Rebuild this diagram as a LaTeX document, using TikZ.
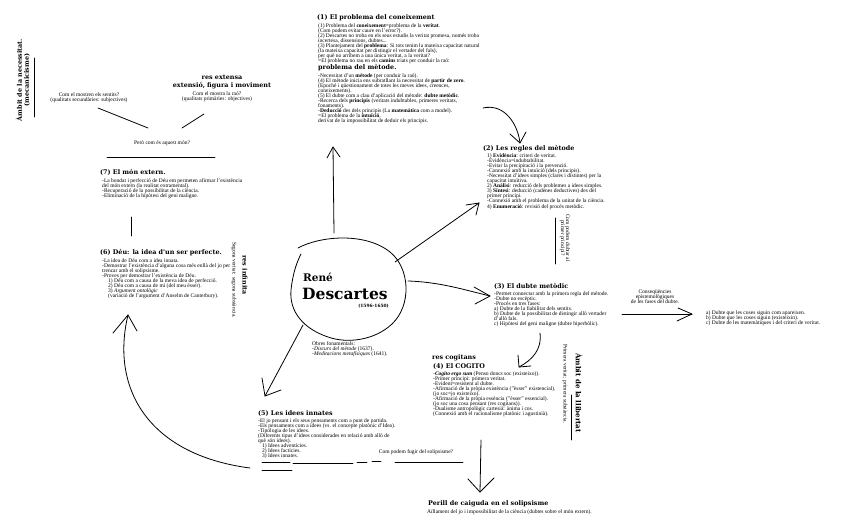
\documentclass[tikz,border=0pt]{standalone}
\usepackage{fontspec}
\usetikzlibrary{calc}
\setmainfont{Liberation Serif}
\newfontfamily\hfont{DejaVu Serif}
\newcommand\bsz{\fontsize{5.5}{5.1}\selectfont}
\newcommand\hsz{\hfont\bfseries\fontsize{6.4}{7}\selectfont}
\begin{document}
\begin{tikzpicture}[x=1pt,y=-1pt,
  body/.style={font=\bsz, align=left, anchor=north west, inner sep=0pt},
  hd/.style={font=\hsz, anchor=base west, inner sep=0pt},
  note/.style={font=\bsz, align=center, inner sep=0pt},
  hand/.style={line width=0.8pt, line cap=round, line join=round},
  thin/.style={line width=0.6pt, line cap=round}]
\useasboundingbox[fill=white] (0,0) rectangle (848,527);

% ---------- (1)
\node[hd] (h1) at (317,20) {(1) El problema del coneixement};
\node[body] (b1) at (318,23) {(1) Problema del \textbf{coneixement}=problema de la \textbf{veritat}.\\
(Com podem evitar caure en l'error?).\\
(2) Descartes no troba en els seus estudis la veritat promesa, només troba\\
incertesa, dissensions, dubtes...\\
(3) Plantejament del \textbf{problema}: Si tots tenim la mateixa capacitat natural\\
(la mateixa capacitat per distingir el vertader del fals),\\
per què no arribem a una única veritat, a la veritat?\\
=El problema no rau en els \textbf{camins} triats per conduir la raó:};
\node[hd] (h1b) at (318,70) {problema del mètode.};
\node[body] (b1b) at (318,73) {-Necessitat d'un \textbf{mètode} (per conduir la raó).\\
(4) El mètode inicia ens subratllant la necessitat de \textbf{partir de zero}.\\
(Epoché i qüestionament de totes les meves idees, creences,\\
coneixements).\\
(5) El dubte com a clau d'aplicació del mètode: \textbf{dubte metòdic}.\\
-Recerca dels \textbf{principis} (veritats indubtables, primeres veritats,\\
fonaments).\\
-\textbf{Deducció} des dels principis (La \textbf{matemàtica} com a model).\\
=El problema de la \textbf{intuïció},\\
derivat de la impossibilitat de deduir els principis.};

% ---------- (2)
\node[hd] (h2) at (483,150) {(2) Les regles del mètode};
\node[body] (b2) at (487,153) {1) \textbf{Evidència}: criteri de veritat.\\
-Evidència=indubtabilitat.\\
-Evitar la precipitació i la prevenció.\\
-Connexió amb la intuïció (dels principis).\\
-Necessitat d'idees simples (clares i distintes) per la\\
capacitat intuïtiva.\\
2) \textbf{Anàlisi}: reducció dels problemes a idees simples.\\
3) \textbf{Síntesi}: deducció (cadenes deductives) des del\\
primer principi.\\
-Connexió amb el problema de la unitat de la ciència.\\
4) \textbf{Enumeració}: revisió del procés metòdic.};

\coordinate (v23a) at (555,218);
\coordinate (v23b) at (555,264);
\draw[thin] (v23a) -- (v23b);
\node[note, rotate=-90] (q23) at (565,238) {Com podem dubtar al\\primer principi?};

% ---------- (3)
\node[hd] (h3) at (494,288) {(3) El dubte metòdic};
\node[body] (b3) at (494,291) {-Permet connectar amb la primera regla del mètode.\\
-Dubte no escèptic.\\
-Procés en tres fases:\\
a) Dubte de la fiabilitat dels sentits.\\
b) Dubte de la possibilitat de distingir allò vertader\\
d'allò fals.\\
c) Hipòtesi del geni maligne (dubte hiperbòlic).};

\node[note] (cons) at (655,297) {Conseqüències\\epistemològiques\\de les fases del dubte.};
\coordinate (c1) at (622,314);
\coordinate (c2) at (692,314);
\draw[hand] (c1) -- (c2);
\draw[hand] ($(c2)+(-14,-6)$) -- (c2) -- ($(c2)+(-15,7)$);
\node[body] (b3b) at (706,310) {a) Dubte que les coses siguin com apareixen.\\
b) Dubte que les coses siguin (existeixin).\\
c) Dubte de les matemàtiques i del criteri de veritat.};

% ---------- (4)
\node[hd] (rc) at (432,359) {res cogitans};
\node[hd] (h4) at (433,368) {(4) El COGITO};
\node[body] (b4) at (433,371) {-\textbf{\textit{Cogito ergo sum}} (Penso doncs soc (existeixo)).\\
-Primer principi: primera veritat.\\
-Evident=resistent al dubte.\\
-Afirmació de la pròpia existència ("èsser" existencial).\\
(jo soc=jo existeixo).\\
-Afirmació de la pròpia essència ("èsser" essencial).\\
(jo soc una cosa pensant (res cogitans)).\\
-Dualisme antropològic cartesià: ànima i cos.\\
(Connexió amb el racionalisme platònic i agustinià).};
\node[hd, font=\hfont\bfseries\fontsize{7}{8}\selectfont, anchor=center, rotate=-90] (al) at (579,393) {Àmbit de la llibertat};
\node[note, rotate=-90] (pv) at (565,384) {Primera veritat: primera substància.};
\draw[thin] (571,395) -- (571,440);

\coordinate (d4a) at (481,440);
\coordinate (d4b) at (480,492);
\draw[hand] (d4a) -- (d4b);
\draw[hand] (468,479) -- (d4b) -- (494,478);
\node[hd] (per) at (428,505) {Perill de caiguda en el solipsisme};
\node[body, anchor=base west] (perb) at (427,513) {Aïllament del jo i impossibilitat de la ciència (dubtes sobre el món extern).};

% ---------- (5)
\node[hd] (h5) at (258,415) {(5) Les idees innates};
\node[body] (b5) at (258,418) {-El jo pensant i els seus pensaments com a punt de partida.\\
-Els pensaments com a idees (vs. el concepte platònic d'Idea).\\
-Tipologia de les idees.\\
(Diferents tipus d'idees considerades en relació amb allò de\\
què són idees).\\
\hspace*{4pt}1) Idees adventícies.\\
\hspace*{4pt}2) Idees factícies.\\
\hspace*{4pt}3) Idees innates.};
\draw[hand] (262,462) -- (290,462);
\draw[hand] (262,470) -- (292,470);
\draw[hand] (293,463) -- (353,463);
\draw[hand] (357,462) -- (367,462);
\draw[hand] (372,461) -- (381,461);
\node[note] (fug) at (416,452) {Com podem fugir del solipsisme?};
\draw[hand] (395,462) -- (463,462);

% ---------- (6)
\node[hd] (h6) at (100,254) {(6) Déu: la idea d'un ser perfecte.};
\node[body] (b6) at (102,258) {-La idea de Déu com a idea innata.\\
-Demostrar l'existència d'alguna cosa més enllà del jo per\\
trencar amb el solipsisme.\\
-Proves per demostrar l'existència de Déu.\\
\hspace*{6pt}1) Déu com a causa de la meva idea de perfecció.\\
\hspace*{6pt}2) Déu com a causa de mi (del meu ésser).\\
\hspace*{6pt}3) \textit{Argument ontològic}\\
\hspace*{6pt}(variació de l'argument d'Anselm de Canterbury).};
\node[hd, anchor=center, rotate=-90] (ri) at (245,275) {res infinita};
\node[note, rotate=-90] (sv) at (234,280) {Segona veritat: segona substància.};

% ---------- (7)
\node[hd] (h7) at (100,174) {(7) El món extern.};
\node[body] (b7) at (102,178) {-La bondat i perfecció de Déu em permeten afirmar l'existència\\
del món extern (la realitat extramental).\\
-Recuperació de la possibilitat de la ciència.\\
-Eliminació de la hipòtesi del geni maligne.};
\draw[thin] (131,217) -- (131,236);

% ---------- top left
\node[note] (pc) at (162,143) {Però com és aquest món?};
\draw[hand] (107,157) -- (215,157);
\node[note] (sent) at (89,98) {Com el mostren els sentits?\\(qualitats secundàries: subjectives)};
\node[hd, anchor=center] (rex) at (222,77) {res extensa};
\node[hd, anchor=center] (efm) at (222,86) {extensió, figura i moviment};
\node[note] (rao) at (217,97) {Com el mostra la raó?\\(qualitats primàries: objectives)};
\draw[hand] (98,108) -- (148,128);
\draw[hand] (182,128) -- (204,114);
\node[hd, anchor=center, rotate=90, align=center] (nec) at (23,80) {Àmbit de la necessitat.\\(mecanicisme)};
\draw[thin] (34,58) -- (34,117);

% ---------- centre
\draw[hand] (298,248) .. controls (320,236) and (365,232) .. (390,252)
  .. controls (410,268) and (412,305) .. (392,324)
  .. controls (375,340) and (348,344) .. (328,337)
  .. controls (304,329) and (289,312) .. (291,290)
  .. controls (293,272) and (297,262) .. (301,254);
\node[font=\hfont\bfseries\fontsize{10.5}{10.5}\selectfont, anchor=base west, inner sep=0pt] (rene) at (303,281) {René};
\node[font=\hfont\bfseries\fontsize{15.5}{15.5}\selectfont, anchor=base west, inner sep=0pt] (desc) at (302,299) {Descartes};
\node[font=\hfont\bfseries\fontsize{4.4}{5}\selectfont, anchor=base east, inner sep=0pt] (dates) at (389,307) {(1596-1650)};
\node[body] (obres) at (312,341) {Obres fonamentals:\\-\textit{Discurs del mètode} (1637).\\-\textit{Meditacions metafísiques} (1641).};

% ---------- arrows
\coordinate (a1s) at (334,233);
\coordinate (a1e) at (333,147);
\draw[hand] (a1s) -- (a1e);
\draw[hand] (327,158) -- (a1e) -- (340,157);

\coordinate (a2s) at (395,262);
\coordinate (a2e) at (479,203);
\draw[hand] (a2s) -- (a2e);
\draw[hand] (466,205) -- (a2e) -- (476,215);

\coordinate (a3s) at (408,281);
\coordinate (a3e) at (490,296);
\draw[hand] (a3s) .. controls (440,282) and (465,290) .. (a3e);
\draw[hand] (474,287) -- (a3e) -- (475,304);

\coordinate (a4s) at (303,325);
\coordinate (a4e) at (265,396);
\draw[hand] (a4s) -- (a4e);
\draw[hand] (262,378) -- (a4e) -- (281,390);

\coordinate (a5s) at (250,468);
\coordinate (a5e) at (128,315);
\draw[hand] (a5s) .. controls (150,455) and (110,390) .. (a5e);
\draw[hand] (113,333) -- (a5e) -- (137,331);

\coordinate (a6s) at (483,108);
\coordinate (a6e) at (520,143);
\draw[hand] (a6s) .. controls (505,103) and (518,125) .. (a6e);
\draw[hand] (510,134) -- (a6e) -- (526,132);

\coordinate (a7s) at (540,333);
\coordinate (a7e) at (519,367);
\draw[hand] (a7s) .. controls (542,350) and (532,360) .. (a7e);
\draw[hand] (518,355) -- (a7e) -- (531,366);
\end{tikzpicture}
\end{document}
